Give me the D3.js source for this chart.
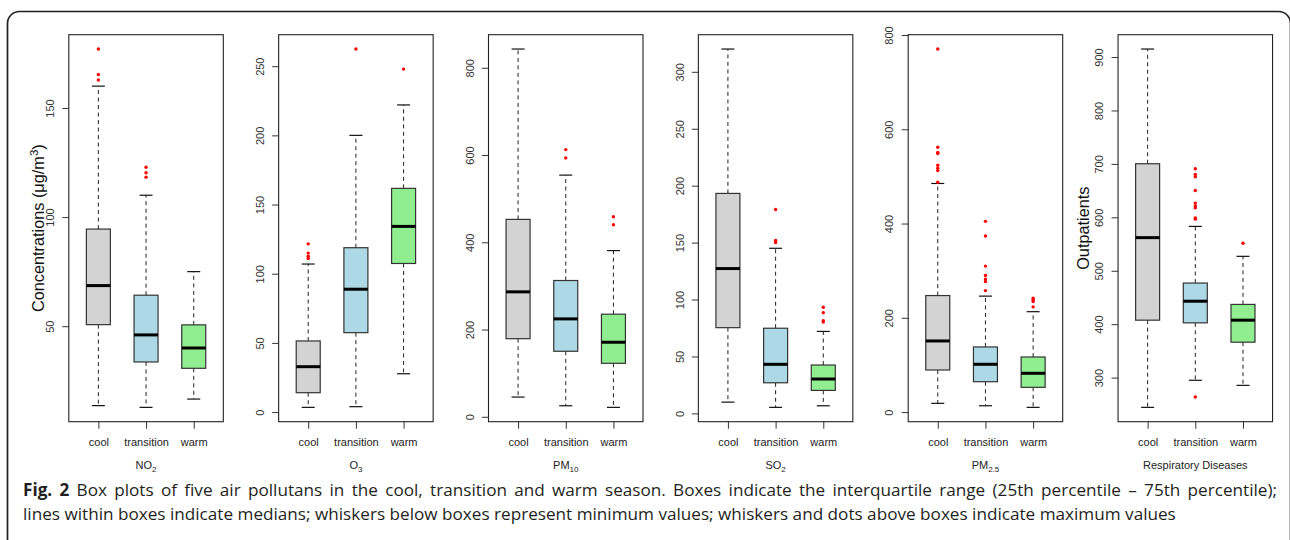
<!DOCTYPE html>
<html><head><meta charset="utf-8">
<script src="https://cdn.jsdelivr.net/npm/d3@7"></script>
<style>body{margin:0;background:#fff;} svg{display:block;}</style>
</head><body>
<svg id="c" width="1290" height="540"></svg>
<script>
const categories = ["cool", "transition", "warm"];
const panelNames = ["NO", "O", "PM", "SO", "PM", "Respiratory Diseases"];
const panelSubs = ["2", "3", "10", "2", "2.5", ""];
const lowerWhisker = [
  [13.6, 12.8, 16.6],
  [3.4, 3.9, 27.7],
  [45.2, 25.3, 21.6],
  [9.9, 5.3, 6.7],
  [18.5, 13.4, 10],
  [244.3, 295, 285.5]];
const q1 = [
  [50.7, 33.6, 30.7],
  [14, 57.4, 107.4],
  [179, 150.2, 122.6],
  [75.3, 26.9, 20.2],
  [89.3, 64.4, 52.5],
  [407.5, 402.5, 366.3]];
const median = [
  [68.6, 46, 40],
  [32.8, 88.8, 134.2],
  [286.4, 224.4, 170.9],
  [127.2, 43.1, 30.2],
  [150.9, 101.4, 82.3],
  [562, 443, 407.5]];
const q3 = [
  [94.5, 64.2, 50.6],
  [51.4, 118.8, 161.7],
  [452.5, 312.4, 235.2],
  [193.2, 74.8, 42.5],
  [247.2, 138.2, 116.9],
  [700.3, 477, 437]];
const upperWhisker = [
  [160, 110, 75],
  [107, 200, 222],
  [843, 554, 381],
  [320, 145, 72],
  [485, 246, 213],
  [915, 583, 527]];
const outliers = [
  [[177, 165.3, 162.8], [122.8, 120.3, 118.3], []],
  [[121.6, 114.9, 112.7, 111], [262.4], [247.9]],
  [[], [612.5, 593.5], [458.7, 440.3]],
  [[], [179.1, 151.8, 150.1], [93.2, 88.5, 81.5, 80.3]],
  [[770.2, 561.9, 550.6, 548.5, 523.6, 517.2, 512.3, 487.5], [404.6, 373.5, 309.7, 289.8, 282.1, 277, 257.7], [241.7, 238.1, 234.5, 223.2]],
  [[], [691, 680.4, 676, 650.3, 626.6, 621.5, 617.8, 599, 596.6, 263.6], [551.5]]];
const yTicks = [
  [50, 100, 150],
  [0, 50, 100, 150, 200, 250],
  [0, 200, 400, 600, 800],
  [0, 50, 100, 150, 200, 250, 300],
  [0, 200, 400, 600, 800],
  [300, 400, 500, 600, 700, 800, 900]];
const captionBold = "Fig. 2";
const captionLine1 = " Box plots of five air pollutans in the cool, transition and warm season. Boxes indicate the interquartile range (25th percentile \u2013 75th percentile);";
const captionLine2 = "lines within boxes indicate medians; whiskers below boxes represent minimum values; whiskers and dots above boxes indicate maximum values";

const fills = ["#D3D3D3", "#ADD8E6", "#90EE90"];
const FONT = "'Liberation Sans', Arial, Helvetica, sans-serif";
const svg = d3.select("#c");

// outer frame
svg.append("rect").attr("x", 7.5).attr("y", 11.5).attr("width", 1283).attr("height", 620)
  .attr("rx", 12).attr("fill", "#fff").attr("stroke", "#231f20").attr("stroke-width", 1.7);

const plotTop = 34.7, plotBottom = 421.7, pw = 154.5;
panelNames.forEach((name, p) => {
  const left = 68.8 + 209.85 * p, right = left + pw;
  const all = lowerWhisker[p].concat(upperWhisker[p], ...outliers[p]);
  const mn = d3.min(all), mx = d3.max(all), r = mx - mn;
  const y = d3.scaleLinear().domain([mn - 0.04 * r, mx + 0.04 * r]).range([plotBottom, plotTop]);
  const x = d3.scaleLinear().domain([0.38, 3.62]).range([left, right]);
  const g = svg.append("g");

  // y axis
  const ya = g.append("g").attr("transform", `translate(${left},0)`)
    .call(d3.axisLeft(y).tickValues(yTicks[p]).tickSize(6.5).tickFormat(d3.format("d")));
  ya.select(".domain").remove();
  ya.selectAll(".tick line").attr("stroke", "#333");
  ya.selectAll(".tick text").attr("transform", "rotate(-90)").attr("x", 0).attr("y", -14.8)
    .attr("dy", 0).attr("text-anchor", "middle").attr("font-family", FONT).attr("font-size", 11).attr("fill", "#333");

  // x axis
  const xa = g.append("g").attr("transform", `translate(0,${plotBottom})`)
    .call(d3.axisBottom(x).tickValues([1, 2, 3]).tickSize(7).tickFormat((d, i) => categories[i]));
  xa.select(".domain").remove();
  xa.selectAll(".tick line").attr("stroke", "#333");
  xa.selectAll(".tick text").attr("y", 0).attr("dy", 0).attr("transform", "translate(0,24.5)")
    .attr("font-family", FONT).attr("font-size", 11).attr("fill", "#222");

  categories.forEach((c, i) => {
    const cx = x(i + 1), hw = 12, sw = 6.5;
    // whiskers
    g.append("line").attr("x1", cx).attr("x2", cx).attr("y1", y(q3[p][i])).attr("y2", y(upperWhisker[p][i]))
      .attr("stroke", "#222").attr("stroke-dasharray", "4,3.5");
    g.append("line").attr("x1", cx).attr("x2", cx).attr("y1", y(q1[p][i])).attr("y2", y(lowerWhisker[p][i]))
      .attr("stroke", "#222").attr("stroke-dasharray", "4,3.5");
    [upperWhisker[p][i], lowerWhisker[p][i]].forEach(v => {
      g.append("line").attr("x1", cx - sw).attr("x2", cx + sw).attr("y1", y(v)).attr("y2", y(v))
        .attr("stroke", "#111").attr("stroke-width", 1.2);
    });
    // box
    g.append("rect").attr("x", cx - hw).attr("width", 2 * hw)
      .attr("y", y(q3[p][i])).attr("height", y(q1[p][i]) - y(q3[p][i]))
      .attr("fill", fills[i]).attr("stroke", "#333").attr("stroke-width", 1.2);
    g.append("line").attr("x1", cx - hw).attr("x2", cx + hw).attr("y1", y(median[p][i])).attr("y2", y(median[p][i]))
      .attr("stroke", "#000").attr("stroke-width", 3);
    outliers[p][i].forEach(v => {
      g.append("circle").attr("cx", cx).attr("cy", y(v)).attr("r", 1.7).attr("fill", "#FF0000");
    });
  });

  // plot frame
  g.append("rect").attr("x", left).attr("y", plotTop).attr("width", pw).attr("height", plotBottom - plotTop)
    .attr("fill", "none").attr("stroke", "#222").attr("stroke-width", 1.1);

  // panel label
  const t = g.append("text").attr("x", (left + right) / 2).attr("y", 469.3).attr("text-anchor", "middle")
    .attr("font-family", FONT).attr("font-size", 11).attr("fill", "#222");
  t.append("tspan").text(name);
  if (panelSubs[p]) t.append("tspan").attr("font-size", 8).attr("dy", 2.5).text(panelSubs[p]);

  // y titles
  if (p === 0) {
    const yt = g.append("text").attr("transform", `translate(43.5,${(plotTop + plotBottom) / 2}) rotate(-90)`)
      .attr("text-anchor", "middle").attr("font-family", FONT).attr("font-size", 16.3).attr("fill", "#111");
    yt.append("tspan").text("Concentrations (\u03BCg/m");
    yt.append("tspan").attr("font-size", 11.5).attr("dy", -6).text("3");
    yt.append("tspan").attr("dy", 6).text(")");
  }
  if (p === 5) {
    svg.append("text").attr("transform", `translate(1088.5,${(plotTop + plotBottom) / 2}) rotate(-90)`)
      .attr("text-anchor", "middle").attr("font-family", FONT).attr("font-size", 16.3).attr("fill", "#111")
      .text("Outpatients");
  }
});

// caption (justified first line, natural second line)
const CF = "'Open Sans', 'Noto Sans', sans-serif";
const c1 = svg.append("text").attr("x", 23).attr("y", 495.5).attr("font-family", CF).attr("font-size", 15).attr("fill", "#231f20");
c1.append("tspan").attr("font-weight", "bold").text(captionBold);
c1.append("tspan").text(captionLine1);
const c2 = svg.append("text").attr("x", 23).attr("y", 519.5).attr("font-family", CF).attr("font-size", 15).attr("fill", "#231f20")
  .text(captionLine2);
const w2 = c2.node().getComputedTextLength();
const fs = 15 * 1154 / w2;
c1.attr("font-size", fs);
c2.attr("font-size", fs);
const w1 = c1.node().getComputedTextLength();
const nSpaces = (captionBold + captionLine1).split(" ").length - 1;
c1.style("word-spacing", ((1254 - w1) / nSpaces) + "px");
</script>
</body></html>
